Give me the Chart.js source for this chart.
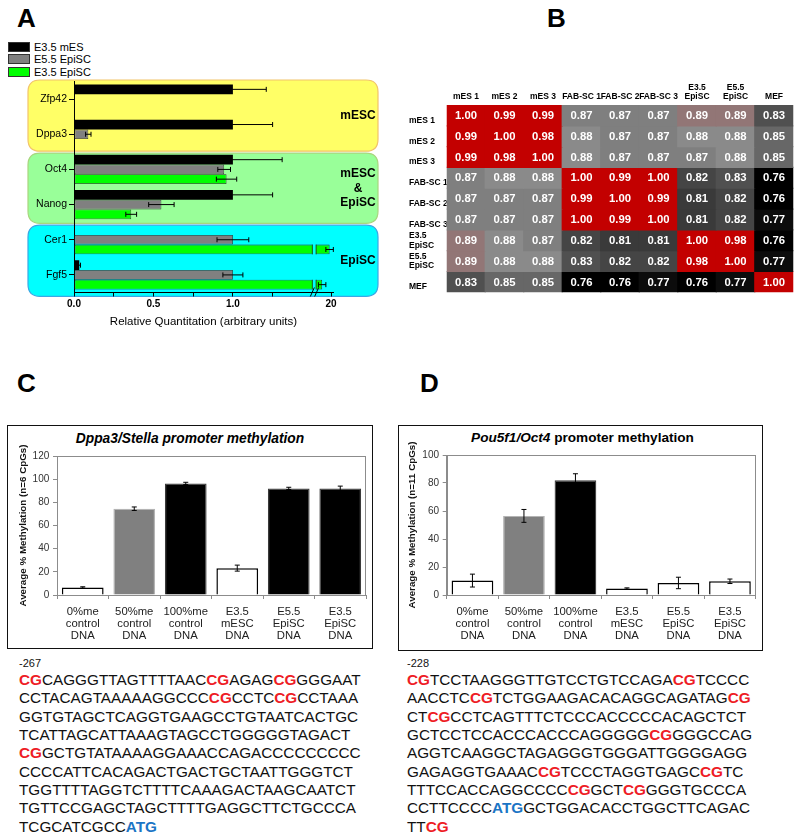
<!DOCTYPE html>
<html><head><meta charset="utf-8">
<script src="https://cdn.jsdelivr.net/npm/chart.js@4.4.1/dist/chart.umd.min.js"></script>
<style>
html,body{margin:0;padding:0;background:#fff;}
body{width:800px;height:839px;position:relative;overflow:hidden;font-family:Arial,"Liberation Sans",Helvetica,sans-serif;color:#000;}
canvas{position:absolute;}
.plabel{position:absolute;font-weight:bold;font-size:26px;line-height:26px;}
.box{position:absolute;border:1.5px solid #111;box-sizing:border-box;pointer-events:none;}
.ctitle{position:absolute;font-weight:bold;font-size:14px;line-height:16px;text-align:center;white-space:nowrap;}
.seq{position:absolute;font-size:15.3px;line-height:18.34px;white-space:pre;color:#111;}
.seq b.r{color:#ee1c25;}
.seq b.b{color:#1b75c5;}
.pos{position:absolute;font-size:11px;line-height:12px;color:#111;}
.legsw{position:absolute;left:8px;width:22px;height:10px;box-sizing:border-box;border:1px solid #333;}
.legtx{position:absolute;left:34px;font-size:11px;line-height:12px;}
</style></head>
<body>
<div class="plabel" style="left:17px;top:4.6px">A</div>
<div class="plabel" style="left:547px;top:4.6px">B</div>
<div class="plabel" style="left:17px;top:369.6px">C</div>
<div class="plabel" style="left:420px;top:369.6px">D</div>
<div id="legendA"></div>

<div class="box" style="left:7px;top:425px;width:366px;height:224px"></div>
<div class="box" style="left:398px;top:425px;width:365px;height:226px"></div>
<div class="ctitle" style="left:7px;top:431px;width:366px;font-size:13.8px"><i>Dppa3/Stella promoter methylation</i></div>
<div class="ctitle" style="left:400px;top:430px;width:365px;font-size:13.6px"><i>Pou5f1/Oct4</i> promoter methylation</div>

<div class="pos" style="left:19px;top:657px">-267</div>
<div class="pos" style="left:407px;top:657px">-228</div>
<div class="seq" id="seqC" style="left:19px;top:671px"></div>
<div class="seq" id="seqD" style="left:407px;top:671px"></div>

<script>
// ---------------- DATA ----------------
// Panel A: relative quantitation
const genesA = ['Zfp42','Dppa3','Oct4','Nanog','Cer1','Fgf5'];
const seriesNamesA = ['E3.5 mES','E5.5 EpiSC','E3.5 EpiSC'];
const mesA      = [1.0, 1.0, 1.0, 1.0, 0.004, 0.033];
const mesErrA   = [0.21, 0.25, 0.31, 0.25, 0, 0.008];
const epi55A    = [0.005, 0.09, 0.945, 0.55, 1.0, 1.0];
const epi55ErrA = [0, 0.017, 0.04, 0.08, 0.10, 0.063];
const epi35A    = [0.002, 0.003, 0.96, 0.36, 19.8, 18.8];
const epi35ErrA = [0, 0, 0.064, 0.034, 0.5, 0.5];
const tickValuesA = [0, 0.25, 0.5, 0.75, 1, 1.25, 20];
const tickTextA   = ['0.0', '', '0.5', '', '1.0', '', '20'];
const groupNamesA = [['mESC'], ['mESC', '&', 'EpiSC'], ['EpiSC']];
const groupSpansA = [[0, 1], [2, 3], [4, 5]];

// Panel B: correlation matrix
const samplesB = ['mES 1','mES 2','mES 3','FAB-SC 1','FAB-SC 2','FAB-SC 3',['E3.5','EpiSC'],['E5.5','EpiSC'],'MEF'];
const rowMES1  = [1.00,0.99,0.99,0.87,0.87,0.87,0.89,0.89,0.83];
const rowMES2  = [0.99,1.00,0.98,0.88,0.87,0.87,0.88,0.88,0.85];
const rowMES3  = [0.99,0.98,1.00,0.88,0.87,0.87,0.87,0.88,0.85];
const rowFAB1  = [0.87,0.88,0.88,1.00,0.99,1.00,0.82,0.83,0.76];
const rowFAB2  = [0.87,0.87,0.87,0.99,1.00,0.99,0.81,0.82,0.76];
const rowFAB3  = [0.87,0.87,0.87,1.00,0.99,1.00,0.81,0.82,0.77];
const rowE35   = [0.89,0.88,0.87,0.82,0.81,0.81,1.00,0.98,0.76];
const rowE55   = [0.89,0.88,0.88,0.83,0.82,0.82,0.98,1.00,0.77];
const rowMEF   = [0.83,0.85,0.85,0.76,0.76,0.77,0.76,0.77,1.00];
const corrRows = [rowMES1,rowMES2,rowMES3,rowFAB1,rowFAB2,rowFAB3,rowE35,rowE55,rowMEF];

// Panels C & D: promoter methylation
const methCats = [['0%me','control','DNA'],['50%me','control','DNA'],['100%me','control','DNA'],['E3.5','mESC','DNA'],['E5.5','EpiSC','DNA'],['E3.5','EpiSC','DNA']];
const dppa3Meth = [6.5, 74.5, 96.3, 23.2, 92.0, 92.0];
const dppa3Err  = [0.6, 1.5, 1.0, 2.6, 1.0, 2.0];
const oct4Meth  = [10.3, 56.5, 82.0, 4.6, 8.6, 9.8];
const oct4Err   = [4.6, 4.6, 4.6, 0.5, 4.1, 1.6];
const dppa3Ticks = [0, 120, 20];
const oct4Ticks  = [0, 100, 10];

// Sequences ([..] = analysed CpG, {..} = start codon)
const seqC = [
 '[CG]CAGGGTTAGTTTTAAC[CG]AGAG[CG]GGGAAT',
 'CCTACAGTAAAAAGGCCC[CG]CCTC[CG]CCTAAA',
 'GGTGTAGCTCAGGTGAAGCCTGTAATCACTGC',
 'TCATTAGCATTAAAGTAGCCTGGGGGTAGACT',
 '[CG]GCTGTATAAAAGGAAACCAGACCCCCCCCC',
 'CCCCATTCACAGACTGACTGCTAATTGGGTCT',
 'TGGTTTTAGGTCTTTTCAAAGACTAAGCAATCT',
 'TGTTCCGAGCTAGCTTTTGAGGCTTCTGCCCA',
 'TCGCATCGCC{ATG}'
];
const seqD = [
 '[CG]TCCTAAGGGTTGTCCTGTCCAGA[CG]TCCCC',
 'AACCTC[CG]TCTGGAAGACACAGGCAGATAG[CG]',
 'CT[CG]CCTCAGTTTCTCCCACCCCCACAGCTCT',
 'GCTCCTCCACCCACCCAGGGGG[CG]GGGCCAG',
 'AGGTCAAGGCTAGAGGGTGGGATTGGGGAGG',
 'GAGAGGTGAAAC[CG]TCCCTAGGTGAGC[CG]TC',
 'TTTCCACCAGGCCCC[CG]GCT[CG]GGGTGCCCA',
 'CCTTCCCC{ATG}GCTGGACACCTGGCTTCAGAC',
 'TT[CG]'
];

// ---------------- STYLES ----------------
const FONT = 'Arial, "Liberation Sans", Helvetica, sans-serif';
Chart.defaults.font.family = FONT;
Chart.defaults.color = '#000';
Chart.defaults.animation = false;
Chart.defaults.plugins.legend.display = false;
Chart.defaults.plugins.tooltip.enabled = false;

const seriesStyleA = [
  {fill:'#000000', border:'#000000', bw:0},
  {fill:'#808080', border:'#333333', bw:0.8},
  {fill:'#00ff00', border:'#2a2a2a', bw:0.8}
];
const boxStyleA = [
  {fill:'#ffff66', stroke:'#f2c46a', dt:-1.5, db:-0.7},
  {fill:'#99ff99', stroke:'#a9d67e', dt:1.2, db:1.2},
  {fill:'#00ffff', stroke:'#3aa8e4', dt:3, db:3.8}
];
const BOX_X0 = 28, BOX_X1 = 378, GROUP_LABEL_X = 358;
// broken axis mapping (display position on the scale)
const BREAK_LO = 1.5, BREAK_HI = 1.524, RESUME_AT = 18, TAIL_K = 0.047;
const posA = v => v <= BREAK_LO ? v : BREAK_HI + (v - RESUME_AT) * TAIL_K;

// ---------------- HTML bits ----------------
(function(){
  const leg = document.getElementById('legendA');
  const tops = [41.7, 54.3, 66.7];
  seriesNamesA.forEach((n,i)=>{
    const sw = document.createElement('div'); sw.className='legsw';
    sw.style.top = tops[i]+'px'; sw.style.background = seriesStyleA[i].fill;
    const tx = document.createElement('div'); tx.className='legtx';
    tx.style.top = (tops[i]-1)+'px'; tx.textContent = n;
    leg.appendChild(sw); leg.appendChild(tx);
  });
  const fmt = s => s.replace(/\[(\w+)\]/g,'<b class="r">$1</b>').replace(/\{(\w+)\}/g,'<b class="b">$1</b>');
  document.getElementById('seqC').innerHTML = seqC.map(fmt).join('\n');
  document.getElementById('seqD').innerHTML = seqD.map(fmt).join('\n');
})();

function mkCanvas(left, top, w, h){
  const c = document.createElement('canvas');
  c.width = w; c.height = h;
  c.style.left = left+'px'; c.style.top = top+'px';
  c.style.width = w+'px'; c.style.height = h+'px';
  document.body.appendChild(c);
  return c;
}
function rrect(ctx,x,y,w,h,r){
  ctx.beginPath();
  ctx.moveTo(x+r,y); ctx.lineTo(x+w-r,y); ctx.quadraticCurveTo(x+w,y,x+w,y+r);
  ctx.lineTo(x+w,y+h-r); ctx.quadraticCurveTo(x+w,y+h,x+w-r,y+h);
  ctx.lineTo(x+r,y+h); ctx.quadraticCurveTo(x,y+h,x,y+h-r);
  ctx.lineTo(x,y+r); ctx.quadraticCurveTo(x,y,x+r,y); ctx.closePath();
}

// ---------------- PLUGINS ----------------
const errorBars = {
  id:'errorBars',
  afterDatasetsDraw(chart){
    const ctx = chart.ctx;
    const horiz = chart.options.indexAxis === 'y';
    const vs = horiz ? chart.scales.x : chart.scales.y;
    chart.data.datasets.forEach((ds,di)=>{
      if(!ds.errors) return;
      const map = ds.posMap || (v=>v);
      const meta = chart.getDatasetMeta(di);
      meta.data.forEach((el,i)=>{
        const e = ds.errors[i], v = ds.raw[i];
        if(!e) return;
        const p1 = vs.getPixelForValue(map(v-e)), p2 = vs.getPixelForValue(map(v+e));
        const cap = 2.5;
        ctx.save(); ctx.strokeStyle='#000'; ctx.lineWidth=1; ctx.beginPath();
        if(horiz){
          const y = el.y;
          ctx.moveTo(p1,y); ctx.lineTo(p2,y);
          ctx.moveTo(p1,y-cap); ctx.lineTo(p1,y+cap);
          ctx.moveTo(p2,y-cap); ctx.lineTo(p2,y+cap);
        } else {
          const x = el.x;
          ctx.moveTo(x,p1); ctx.lineTo(x,p2);
          ctx.moveTo(x-cap,p1); ctx.lineTo(x+cap,p1);
          ctx.moveTo(x-cap,p2); ctx.lineTo(x+cap,p2);
        }
        ctx.stroke(); ctx.restore();
      });
    });
  }
};

const bgBoxesA = {
  id:'bgBoxesA',
  beforeDraw(chart){
    const ctx = chart.ctx, ys = chart.scales.y;
    const step = ys.getPixelForValue(1) - ys.getPixelForValue(0);
    groupSpansA.forEach((sp,gi)=>{
      const st = boxStyleA[gi];
      const top = ys.getPixelForValue(sp[0]) - step/2 + st.dt;
      const bot = ys.getPixelForValue(sp[1]) + step/2 + st.db;
      ctx.save();
      rrect(ctx, BOX_X0, top, BOX_X1-BOX_X0, bot-top, 12);
      ctx.fillStyle = st.fill; ctx.fill();
      ctx.strokeStyle = st.stroke; ctx.lineWidth = 1.2; ctx.stroke();
      ctx.fillStyle = '#000'; ctx.font = 'bold 12px '+FONT;
      ctx.textAlign = 'center'; ctx.textBaseline = 'middle';
      const lines = groupNamesA[gi], mid = (top+bot)/2, lh = 14.5;
      lines.forEach((t,li)=> ctx.fillText(t, GROUP_LABEL_X, mid + (li-(lines.length-1)/2)*lh));
      ctx.restore();
    });
  }
};

const breakA = {
  id:'breakA',
  afterDatasetsDraw(chart){
    const ctx = chart.ctx, xs = chart.scales.x;
    const g1 = xs.getPixelForValue(BREAK_LO), g2 = xs.getPixelForValue(BREAK_HI);
    chart.data.datasets.forEach((ds,di)=>{
      const meta = chart.getDatasetMeta(di);
      meta.data.forEach((el,i)=>{
        if(ds.raw[i] <= BREAK_LO) return;
        const h = el.height, top = el.y-h/2, bot = el.y+h/2;
        ctx.save();
        ctx.fillStyle = boxStyleA[2].fill;
        ctx.fillRect(g1+0.4, top-1, g2-g1-0.8, h+2);
        ctx.strokeStyle = '#2a2a2a'; ctx.lineWidth = 0.8;
        ctx.beginPath();
        ctx.moveTo(g1,top); ctx.lineTo(g1,bot);
        ctx.moveTo(g2,top); ctx.lineTo(g2,bot);
        ctx.stroke(); ctx.restore();
      });
    });
    const y = xs.top;
    ctx.save(); ctx.strokeStyle='#000'; ctx.lineWidth=1; ctx.beginPath();
    ctx.moveTo(g1-2, y+4); ctx.lineTo(g1+2, y-5);
    ctx.moveTo(g2-1.5, y+4); ctx.lineTo(g2+2.5, y-5);
    ctx.stroke(); ctx.restore();
  }
};

const cellText = {
  id:'cellText',
  afterDatasetsDraw(chart){
    const ctx = chart.ctx;
    ctx.save();
    ctx.fillStyle = '#fff'; ctx.font = 'bold 11.3px '+FONT;
    ctx.textAlign = 'center'; ctx.textBaseline = 'middle';
    chart.data.datasets.forEach((ds,di)=>{
      const meta = chart.getDatasetMeta(di);
      meta.data.forEach((el,i)=>{
        ctx.fillText(ds.values[i].toFixed(2), el.x, (el.y+el.base)/2 + 0.5);
      });
    });
    ctx.restore();
  }
};

const plotFrame = {
  id:'plotFrame',
  beforeDatasetsDraw(chart){
    const a = chart.chartArea, ctx = chart.ctx;
    ctx.save(); ctx.strokeStyle='#8c8c8c'; ctx.lineWidth=1;
    ctx.strokeRect(Math.round(a.left)+0.5, Math.round(a.top)+0.5, Math.round(a.right-a.left)-1, Math.round(a.bottom-a.top));
    ctx.restore();
  }
};

// ---------------- PANEL A ----------------
new Chart(mkCanvas(0, 70, 390, 280), {
  type:'bar',
  data:{
    labels: genesA,
    datasets: [[mesA,mesErrA],[epi55A,epi55ErrA],[epi35A,epi35ErrA]].map((p,i)=>({
      label: seriesNamesA[i], data: p[0].map(posA), raw: p[0], errors: p[1], posMap: posA,
      backgroundColor: seriesStyleA[i].fill, borderColor: seriesStyleA[i].border, borderWidth: seriesStyleA[i].bw,
      borderSkipped: false, categoryPercentage: 0.83, barPercentage: 1
    }))
  },
  options:{
    indexAxis:'y', responsive:false, devicePixelRatio:1,
    layout:{padding:{left:0, right:57, top:11.5, bottom:0}},
    scales:{
      x:{
        type:'linear', min:0, max:1.63,
        afterBuildTicks: s => { s.ticks = tickValuesA.map(v => ({value: posA(v)})); },
        ticks:{callback:(v,i)=>tickTextA[i], autoSkip:false, maxRotation:0, font:{size:10, weight:'bold'}, color:'#000', padding:2},
        grid:{drawOnChartArea:false, drawTicks:true, tickLength:4, color:'#000'},
        border:{color:'#000', width:1},
        title:{display:true, text:'Relative Quantitation (arbitrary units)', font:{size:11.5}, color:'#000', padding:{top:0, bottom:21.4}},
        afterFit: s => { s.height = 57.5; }
      },
      y:{
        type:'category',
        grid:{drawOnChartArea:false, offset:false, tickLength:5, color:'#000'},
        border:{color:'#000', width:1},
        ticks:{font:{size:10.5}, color:'#000', padding:2},
        afterFit: s => { s.width = 74; }
      }
    }
  },
  plugins:[bgBoxesA, breakA, errorBars]
});

// ---------------- PANEL B ----------------
function heatColor(v){
  const lo=[0,0,0], mid=[138,138,138], hi=[195,0,0];
  let c;
  if(v <= 0.76) c = lo;
  else if(v <= 0.88){ const t=(v-0.76)/0.12; c = lo.map((a,k)=>a+(mid[k]-a)*t); }
  else if(v < 0.95){ const t=(v-0.88)/0.07; c = mid.map((a,k)=>a+(hi[k]-a)*t); }
  else c = hi;
  return 'rgb('+c.map(Math.round).join(',')+')';
}
const rowTickPos = samplesB.map((l,i)=> i + (Array.isArray(l) ? 0.5 : 0.74));
new Chart(mkCanvas(390, 78, 410, 222), {
  type:'bar',
  data:{
    labels: samplesB,
    datasets: corrRows.map((row,ri)=>({
      label: Array.isArray(samplesB[ri]) ? samplesB[ri].join(' ') : samplesB[ri],
      data: row.map(()=>1), values: row,
      backgroundColor: row.map(heatColor), borderWidth:0, inflateAmount:0.6,
      barPercentage:1, categoryPercentage:1, stack:'m'
    }))
  },
  options:{
    responsive:false, devicePixelRatio:1,
    layout:{padding:{left:19, right:6.7, top:0, bottom:7.7}},
    scales:{
      x:{
        type:'category', position:'top', stacked:true, offset:true,
        grid:{display:false, drawTicks:false}, border:{display:false},
        ticks:{font:{size:8.5, weight:'bold', lineHeight:1.15}, color:'#000', padding:3, maxRotation:0, autoSkip:false},
        afterFit: s => { s.height = 27; }
      },
      y:{
        type:'linear', stacked:true, reverse:true, min:0, max:9,
        grid:{display:false, drawTicks:false}, border:{display:false},
        afterBuildTicks: s => { s.ticks = rowTickPos.map(v => ({value:v})); },
        ticks:{callback:(v,i)=>samplesB[i], crossAlign:'far', autoSkip:false, font:{size:8.5, weight:'bold', lineHeight:1.15}, color:'#000', padding:0},
        afterFit: s => { s.width = 37.7; }
      }
    }
  },
  plugins:[cellText]
});

// ---------------- PANELS C & D ----------------
function methChart(canvas, vals, errs, fills, borders, widths, ticks, yTitle, yW, xH, pad, titlePad){
  return new Chart(canvas, {
    type:'bar',
    data:{
      labels: methCats,
      datasets:[{
        label: yTitle, data: vals, raw: vals, errors: errs,
        backgroundColor: fills, borderColor: borders, borderWidth: widths,
        borderSkipped:'bottom', categoryPercentage:1, barPercentage:0.81
      }]
    },
    options:{
      responsive:false, devicePixelRatio:1,
      layout:{padding:pad},
      scales:{
        x:{
          type:'category',
          grid:{drawOnChartArea:false, offset:true, tickLength:4, color:'#8c8c8c'},
          border:{color:'#8c8c8c'},
          ticks:{font:{size:11.3, lineHeight:1.09}, color:'#222', padding:6.5, maxRotation:0, autoSkip:false},
          afterFit: s => { s.height = xH; }
        },
        y:{
          type:'linear', min:ticks[0], max:ticks[1],
          ticks:{stepSize:ticks[2], font:{size:10}, color:'#333', padding:3.7},
          grid:{drawOnChartArea:false, tickLength:4, color:'#8c8c8c'},
          border:{color:'#8c8c8c'},
          title:{display:true, text:yTitle, font:{size:9.8, weight:'bold'}, color:'#111', padding:{top:titlePad, bottom:0}},
          afterFit: s => { s.width = yW; }
        }
      }
    },
    plugins:[plotFrame, errorBars]
  });
}
const W='#ffffff', G='#808080', K='#000000';
methChart(mkCanvas(7, 425, 366, 224), dppa3Meth, dppa3Err,
  [W,G,K,W,K,K], ['#000','#b4b4b4','#3a3a3a','#000','#3a3a3a','#3a3a3a'], [1.5,1.2,1.2,1.5,1.2,1.2],
  dppa3Ticks, 'Average % Methylation (n=6 CpGs)', 50, 54, {left:0, right:7, top:31, bottom:0}, 10.1);
methChart(mkCanvas(398, 425, 365, 226), oct4Meth, oct4Err,
  [W,G,K,W,W,W], ['#000','#b4b4b4','#3a3a3a','#000','#000','#000'], [1.5,1.2,1.2,1.5,1.5,1.5],
  oct4Ticks, 'Average % Methylation (n=11 CpGs)', 48.7, 56, {left:0, right:7.3, top:30, bottom:0}, 8.6);
</script>
</body></html>
